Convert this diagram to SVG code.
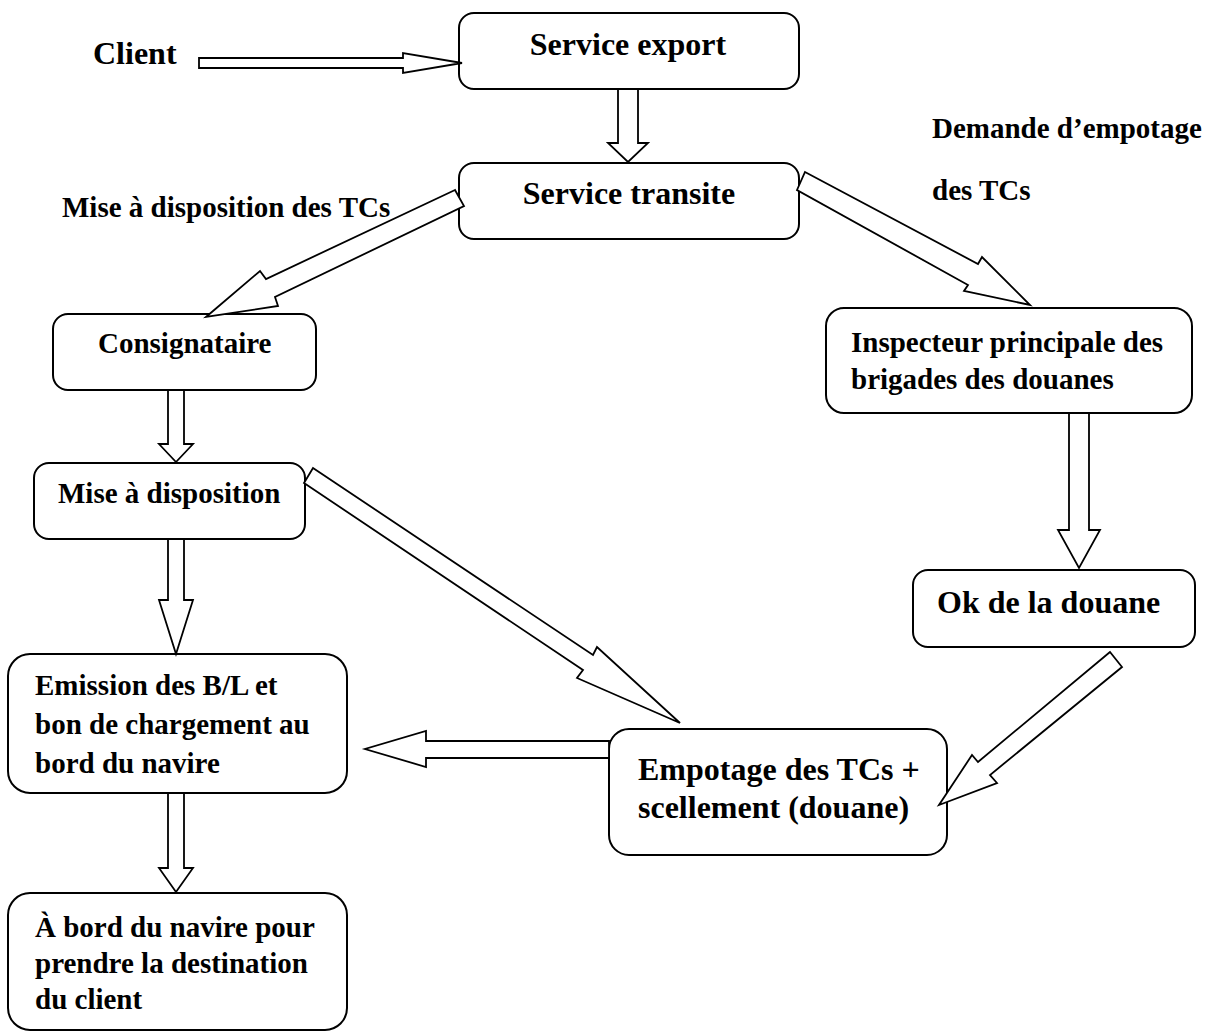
<svg xmlns="http://www.w3.org/2000/svg" width="1210" height="1034" viewBox="0 0 1210 1034">
<style>
.box{fill:#fff;stroke:#000;stroke-width:2}
.arr{fill:#fff;stroke:#000;stroke-width:1.8;stroke-linejoin:miter}
text{font-family:"Liberation Serif","Times New Roman",serif;font-weight:bold;fill:#000}
.t32{font-size:32px}
.t29{font-size:29px}
</style>
<rect width="1210" height="1034" fill="#fff"/>
<g id="nodes">
<g id="n-client"><text class="t32" x="93" y="64">Client</text></g>
<g id="n-export"><rect class="box" x="459" y="13" width="340" height="76" rx="15"/><text class="t32" x="628" y="55" text-anchor="middle">Service export</text></g>
<g id="n-transite"><rect class="box" x="459" y="163" width="340" height="76" rx="15"/><text class="t32" x="629" y="204" text-anchor="middle">Service transite</text></g>
<g id="n-consignataire"><rect class="box" x="53" y="314" width="263" height="76" rx="15"/><text class="t29" x="98" y="353">Consignataire</text></g>
<g id="n-mise"><rect class="box" x="34" y="463" width="271" height="76" rx="15"/><text class="t29" x="58" y="503">Mise à disposition</text></g>
<g id="n-emission"><rect class="box" x="8" y="654" width="339" height="139" rx="22"/><text class="t29" x="35"><tspan x="35" y="695">Emission des B/L et</tspan><tspan x="35" y="734">bon de chargement au</tspan><tspan x="35" y="773">bord du navire</tspan></text></g>
<g id="n-abord"><rect class="box" x="8" y="893" width="339" height="137" rx="22"/><text class="t29"><tspan x="35" y="937">À bord du navire pour</tspan><tspan x="35" y="973">prendre la destination</tspan><tspan x="35" y="1009">du client</tspan></text></g>
<g id="n-inspecteur"><rect class="box" x="826" y="308" width="366" height="105" rx="18"/><text class="t29"><tspan x="851" y="352">Inspecteur principale des</tspan><tspan x="851" y="389">brigades des douanes</tspan></text></g>
<g id="n-ok"><rect class="box" x="913" y="570" width="282" height="77" rx="15"/><text class="t32" x="937" y="613">Ok de la douane</text></g>
<g id="n-empotage"><rect class="box" x="609" y="729" width="338" height="126" rx="20"/><text class="t32"><tspan x="638" y="780">Empotage des TCs +</tspan><tspan x="638" y="818">scellement (douane)</tspan></text></g>
<g id="l-mise-tcs"><text class="t29" x="62" y="217">Mise à disposition des TCs</text></g>
<g id="l-demande"><text class="t29"><tspan x="932" y="138">Demande d’empotage</tspan><tspan x="932" y="200">des TCs</tspan></text></g>
</g>
<g id="connectors">
<polygon class="arr" points="199,58 403,58 403,53 462,63 403,73 403,68 199,68"/>
<polygon class="arr" points="618,89 638,89 638,143 648,143 628,162 608,143 618,143"/>
<polygon class="arr" points="455,190 266,279 260,271 206,317 278,306 275,297 464,206"/>
<polygon class="arr" points="805,172 978,264 982,257 1030,305 964,291 968,285 797,190"/>
<polygon class="arr" points="313,468 593,655 597,647 680,723 577,678 583,670 304,483"/>
<polygon class="arr" points="609,741 426,741 426,731 365,749 426,767 426,758 609,758"/>
<polygon class="arr" points="1110,652 978,762 972,755 939,805 997,783 990,775 1122,667"/>
<polygon class="arr" points="168,390 184,390 184,444 193,444 176,462 159,444 168,444"/>
<polygon class="arr" points="168,539 184,539 184,600 193,600 176,654 159,600 168,600"/>
<polygon class="arr" points="168,793 184,793 184,868 193,868 176,892 159,868 168,868"/>
<polygon class="arr" points="1069,413 1089,413 1089,530 1100,530 1079,568 1058,530 1069,530"/>
</g>
</svg>
